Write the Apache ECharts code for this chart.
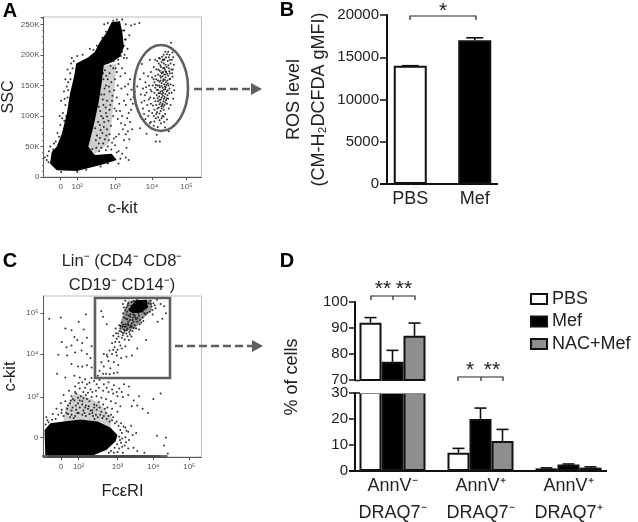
<!DOCTYPE html>
<html><head><meta charset="utf-8">
<style>html,body{margin:0;padding:0;background:#fff}#c{width:638px;height:522px}</style>
<script src="https://cdn.jsdelivr.net/npm/echarts@6/dist/echarts.min.js"></script>
</head><body><div id="c"></div>
<script>
// Panel B
const bCategories=['PBS','Mef'];
const bValues=[14000,17000];
const bErrorTops=[14000,17300];
// Panel D
const dCategories=['AnnV\u207B\nDRAQ7\u207B','AnnV\u207A\nDRAQ7\u207B','AnnV\u207A\nDRAQ7\u207A'];
const dPBS=[92,7,1];
const dMef=[77,20,2.5];
const dNAC=[87,11.5,1.3];
const dPBSTop=[94,8.7,1.2];
const dMefTop=[81.4,24.2,2.7];
const dNACTop=[91.9,16,1.6];
// Flow panels: tick positions in display decades, with their labels
const aXTicks=[1.49,1.95,3,4.03,4.99];
const cXTicks=[1.43,1.92,3,4,5];
const cYTicks=[2.04,3,4.02,4.99];
const xTickLabels=['0','10\u00B2','10\u00B3','10\u2074','10\u2075'];
const cYTickLabels=['0','10\u00B3','10\u2074','10\u2075'];
// Panel A: dense cloud outline [c-kit decades, SSC in K]
const aCloud=[[1.19,22],[1.24,41],[1.38,50],[1.52,71],[1.66,104],[1.75,137],[1.86,164],[1.92,186],[2.26,196],[2.44,205],[2.58,221],[2.77,237],[2.91,254],[3.14,255],[3.21,235],[3.25,213],[3.14,197],[2.91,188],[2.69,183],[2.63,153],[2.54,120],[2.4,82],[2.26,50],[2.44,36],[2.91,38],[3.05,28],[2.68,21],[1.94,10],[1.38,11]];
const aHaze=[[2.69,183],[3.04,185],[2.98,140],[2.92,95],[2.82,55],[2.45,38],[2.26,50],[2.4,82],[2.54,120],[2.63,153]];
// Panel A: sparse events
const aGate=[[4.18,190],[4.25,194],[4.31,197],[4.38,193],[4.42,196],[4.47,190],[4.22,186],[4.3,188],[4.36,186],[4.41,184],[4.28,180],[4.34,178],[4.39,176],[4.44,180],[4.5,178],[4.55,186],[4.58,192],[4.52,200],[4.6,204],[4.48,205],[4.56,220],[4.62,196],[4.64,184],[4.25,174],[4.31,170],[4.37,168],[4.43,172],[4.48,166],[4.53,170],[4.2,168],[4.28,163],[4.35,160],[4.41,163],[4.46,158],[4.52,160],[4.6,164],[4.24,156],[4.3,154],[4.37,152],[4.42,155],[4.49,150],[4.55,152],[4.15,160],[4.1,155],[4.18,150],[4.25,147],[4.33,146],[4.4,144],[4.47,142],[4.52,145],[4.62,150],[4.05,150],[4.12,146],[4.2,142],[4.27,140],[4.34,138],[4.4,136],[4.46,134],[4.58,138],[4.1,138],[4.16,134],[4.23,132],[4.3,130],[4.36,128],[4.42,126],[4.48,128],[4.2,124],[4.27,122],[4.33,120],[4.38,118],[4.45,120],[4.15,118],[4.22,114],[4.3,112],[4.36,110],[4.5,112],[4.1,110],[4.17,106],[4.24,104],[4.32,100],[4.08,100],[4.14,96],[4.2,98],[4.37,90],[4.45,94],[4.28,88],[4.21,176],[4.33,192],[4.27,158],[4.39,148],[4.31,136],[4.24,126],[4.35,124],[4.29,116],[4.23,150],[4.44,140],[4.34,172],[4.4,168],[3.75,185],[3.8,170],[3.7,160],[3.85,155],[3.78,145],[3.72,135],[3.92,165],[3.95,150],[3.88,138],[3.98,130],[3.82,125],[3.9,118],[3.78,112],[3.95,108],[3.7,100],[3.85,95],[4,120],[4.02,140],[4,172],[3.97,192],[4.08,180],[4.12,192],[3.62,148],[3.55,140],[3.5,120],[4.14,58],[4.25,58],[4.16,69],[3.88,71],[3.7,80],[4.08,84],[4,90],[4.5,75],
[4.263,183],[4.347,191],[4.292,171],[4.371,179],[4.408,173],[4.322,165],[4.389,159],[4.257,166],[4.433,151],[4.296,149],[4.361,143],[4.318,141],[4.383,131],[4.254,137],[4.335,133],[4.277,127],[4.401,122],[4.349,115],[4.271,108],[4.312,118],[4.238,119],[4.188,129],[4.216,137],[4.168,143],[4.138,151],[4.195,158],[4.339,157],[4.416,147],[4.456,169],[4.487,183],[4.512,173],[4.536,161],[4.475,153],[4.508,137],[4.441,129],[4.183,112],[4.127,124],[4.083,129],[4.059,117],[4.037,105],[4.151,103],[4.098,91],[4.243,93],[4.299,96],[4.353,99],[4.401,103],[4.566,176],[4.592,170],[4.611,176],[4.527,192],[4.497,196],[4.449,201],[4.403,205],[4.355,200],[4.228,195],[4.152,176],[4.127,166],[4.077,160],[4.033,163],[3.992,143],[3.941,127],[3.867,147],[3.833,134],[3.742,122],[3.762,95],[3.81,103],[3.926,100],[3.973,88],[4.043,79],[4.193,82],[4.316,76],[4.395,81],[4.62,128],[4.65,142],[4.55,118]];
const aFringe=[[3.3,250],[3.45,248],[3.55,250],[3.68,252],[3.4,232],[3.28,225],[3.35,210],[3.22,240],[3.25,195],[3.2,178],[3.1,185],[3.15,165],[3.28,170],[3.05,172],[3,160],[3.08,150],[3.18,145],[2.95,178],[2.85,170],[2.9,155],[2.98,142],[3.05,130],[2.8,160],[2.72,175],[2.75,150],[2.85,140],[2.92,125],[2.7,135],[2.78,125],[2.85,110],[2.95,100],[2.68,118],[2.75,105],[2.82,92],[2.62,100],[2.7,90],[2.78,78],[2.58,85],[2.65,72],[2.72,62],[2.85,70],[2.5,68],[2.55,55],[2.62,48],[2.8,50],[2.9,45],[3,52],[3.1,42],[3.2,38],[3.3,32],[3.38,28],[3.15,30],[3.25,60],[3.32,48],[3.36,75],[3.28,85],[3.42,90],[3.38,105],[3.3,118],[3.25,125],[3.45,110],[3.2,100],[3.35,135],[3.42,160],[3.12,120],[3.48,78],[3.4,62],[2.45,80],[2.55,115],[2.62,135],[2.68,160],[2.85,195],[2.75,205],[2.6,210],[2.5,215],[2.4,208],[2.65,228],[2.75,238],[2.8,252],[2.7,250],[3.2,258],[3.05,258],[2.95,256],[3.25,215],[1.62,70],[1.55,105],[1.62,118],[1.5,125],[1.68,130],[1.58,140],[1.7,155],[1.62,160],[1.75,170],[1.68,176],[1.78,186],[1.72,105],[1.48,85],[1.4,72],[1.3,55],[1.32,40],[1.2,50],[1.12,35],[1.05,32],[1.15,24],[1.5,8],[1.95,8],[2.2,12],[2.6,17],[2.8,22],[3.05,40],[3.1,22],[1.8,195],[1.95,198],[2.1,200],[2.3,210],
[2.72,193],[2.81,187],[2.67,170],[2.76,166],[2.88,182],[2.97,190],[3.02,178],[3.09,192],[2.83,148],[2.71,145],[2.93,133],[2.66,127],[2.74,114],[2.87,118],[2.99,112],[2.59,108],[2.67,96],[2.78,99],[2.89,84],[2.53,90],[2.6,77],[2.69,82],[2.76,68],[2.47,60],[2.58,64],[2.67,55],[2.75,44],[2.83,60],[2.92,56],[2.97,63],[3.03,66],[2.37,46],[2.48,48],[2.56,42],[3.17,198],[3.2,205],[3.27,200],[3.3,225],[3.26,240],[3.33,195],[3.28,148],[3.37,152],[3.46,143],[3.52,131],[3.44,127],[3.34,96],[3.3,70],[3.22,78],[3.17,88],[3.11,70],[3.08,95],[3.04,108],[3.14,108],[1.59,92],[1.53,96],[1.64,100],[1.46,100],[1.6,128],[1.7,142],[1.66,148],[1.76,160],[1.82,178],[1.85,190],[1.35,58],[1.44,66],[1.28,45],[1.1,28],[1.16,42]];
// Panel C: dense outlines [Fc-epsilon-RI decades, c-kit decades]
const cBlob=[[0.97,2.22],[1.13,2.38],[1.5,2.42],[1.96,2.47],[2.45,2.42],[2.8,2.28],[3,2.1],[2.95,1.95],[2.7,1.75],[2.33,1.62],[0.99,1.62]];
const cCore=[[3.5,5.29],[3.82,5.3],[3.85,5.12],[3.66,5],[3.42,4.98],[3.3,5.05]];
const cGateHaze=[[3.3,5.28],[3.95,5.3],[3.95,5.05],[3.7,4.85],[3.5,4.62],[3.2,4.55],[3.05,4.62],[3.15,4.95]];
const cMidHaze=[[1.5,2.42],[1.55,2.75],[1.8,3.08],[2.05,3.05],[2.5,2.85],[2.85,2.5],[2.8,2.28],[2.45,2.42],[1.96,2.47]];
const cAxisPile=[[1.1,1.6],[1.25,1.6],[1.4,1.6],[1.6,1.6],[1.8,1.6],[2,1.6],[2.2,1.6],[2.4,1.6],[2.6,1.6],[2.8,1.6],[3,1.6],[3.15,1.6],[3.3,1.6],[3.45,1.6],[3.6,1.6],[3.8,1.6],[4,1.6],[4.2,1.6]];
// Panel C: sparse events
const cGate=[[3.45,5.27],[3.55,5.3],[3.3,5.22],[3.22,5.28],[3.38,5.16],[3.25,5.12],[3.15,5.2],[3.92,5.28],[4,5.22],[4.1,5.3],[3.95,5.14],[4.06,5.1],[4.2,5.2],[4.3,5.15],[3.9,5.02],[3.98,4.95],[3.78,4.95],[3.7,4.88],[3.6,4.92],[3.5,4.88],[3.42,4.82],[3.35,4.9],[3.25,4.95],[3.18,4.88],[3.55,4.78],[3.62,4.72],[3.72,4.8],[3.48,4.7],[3.4,4.74],[3.3,4.78],[3.22,4.72],[3.12,4.76],[3.05,4.7],[3.35,4.65],[3.28,4.62],[3.18,4.6],[3.1,4.55],[3.42,4.56],[3.52,4.62],[3.6,4.6],[3.25,4.5],[3.35,4.48],[3.15,4.46],[3.02,4.5],[2.95,4.62],[2.88,4.45],[2.98,4.38],[3.05,4.3],[3.2,4.36],[2.85,4.28],[2.92,4.18],[3,4.12],[3.12,4.15],[3.22,4.2],[2.78,4.1],[2.7,4],[2.62,4.02],[2.85,4.02],[2.98,3.98],[3.1,3.92],[3.25,3.95],[3.4,3.98],[2.75,3.85],[2.9,3.82],[3.02,3.76],[2.55,3.82],[2.62,3.72],[2.8,3.68],[2.5,3.62],[2.6,3.55],[2.68,3.55],[2.78,3.54],[2.9,3.56],[3,3.58],[2.45,3.5],[3.8,4.35],[3.55,4.15],[3.32,4.35],[2.6,4.9],[2.55,5.03],[2.7,4.72],[4.25,4.85],[4.12,4.78],[4.35,4.98],[3.7,5.02],[3.58,4.98],[3.44,4.95],[3.36,4.96],[3.75,4.98],[3.62,4.82],[3.52,4.84],[3.45,4.78],[3.35,4.82],[3.27,4.84],[3.4,4.66],[3.3,4.7],[3.2,4.66],[3.14,4.66],[3.26,4.58],[3.36,4.58],[3.18,4.52],[3.08,4.62],
[3.33,5.08],[3.27,5.02],[3.21,5.05],[3.16,4.98],[3.39,5.03],[3.48,4.93],[3.56,4.87],[3.66,4.76],[3.43,4.88],[3.31,4.93],[3.23,4.86],[3.29,4.73],[3.37,4.69],[3.45,4.63],[3.24,4.67],[3.16,4.71],[3.09,4.68],[3.33,4.54],[3.21,4.57],[3.14,4.52],[3.06,4.56],[3.28,4.44],[3.39,4.43],[3.12,4.4],[3.03,4.43],[2.96,4.51],[3.87,5.22],[3.97,5.06],[3.83,4.99],[3.93,5.2],[4.04,5.17],[3.4,5.24],[3.29,5.17],[3.18,5.12],[2.94,4.3],[3.08,4.22],[2.88,4.12],[2.96,4.06],[2.72,3.95]];
const cUpper=[[1.42,4.88],[1.55,4.62],[1.72,4.58],[1.92,4.78],[2.06,4.6],[2.12,4.95],[1.8,4.42],[1.45,4.3],[1.58,4.18],[1.72,4.22],[1.88,4.35],[2.02,4.28],[2.15,4.4],[2.28,4.2],[1.35,4],[1.6,3.98],[1.82,4.05],[2,4.1],[2.15,4.02],[2.25,3.92],[1.72,3.78],[1.9,3.72],[2.02,3.72],[2.15,3.75],[2.28,3.7],[1.1,4.85],[1.32,3.55],[1.55,3.46],[1.8,3.5],[1.95,3.46],[2.1,3.42],[2.22,3.34],[2.35,3.38],[2.5,3.4],[2.62,3.3],[2.75,3.35],[2.9,3.28],[3.05,3.2],[3.18,3.3],[3.32,3.25],[2.48,3.22],[2.6,3.15],[2.75,3.12],[2.88,3.08],[3,3.02],[3.15,3],[3.3,3.05],[3.45,2.92],[3.6,3.02],[3.7,2.72],[3.55,2.8],[3.4,2.78],[4,2.95],[3.85,2.62],[4.2,3.08],[2.25,3.18],[2.1,3.22],[1.95,3.2],[1.82,3.25],[1.65,3.15],[1.5,3.05],[1.72,3.02],[1.85,3.08],[1.98,3.02],[2.12,3.05],[2.28,3],[2.42,3.02],[2.55,2.98],[2.68,2.95],[2.82,2.9],[2.95,2.85],[3.08,2.78],[1.42,2.85],[1.55,2.9],[1.68,2.85],[1.8,2.92],[1.9,2.85],[2.02,2.9],[2.12,2.8],[2.22,2.9],[2.35,2.82],[2.48,2.88],[2.6,2.82],[2.72,2.75],[2.85,2.72],[3,2.65],[1.3,2.72],[1.45,2.7],[1.6,2.72],[1.75,2.75],[1.85,2.7],[1.95,2.75],[2.05,2.68],[2.18,2.72],[2.3,2.68],[2.42,2.7],[2.55,2.65],[2.68,2.62],[2.82,2.58],[1.2,2.6],[1.35,2.58],[1.5,2.55],[1.62,2.6],[1.72,2.58],[1.82,2.55],[1.92,2.62],[2.02,2.58],[2.12,2.55],[2.22,2.6],[2.32,2.55],[2.45,2.52],[2.58,2.5],[2.7,2.48],[2.85,2.45],[2.98,2.42],[3.1,2.38],[3.22,2.28],[3.3,2.18],[3.38,2.32],[3.12,2.15],[3.22,2.05],[3.32,1.98],[3.42,2.1],[3.52,2.15],[3.1,1.92],[3.2,1.85],[3.3,1.78],[3.45,1.8],[3.05,1.78],[3,1.7],[3.15,1.68],[2.9,1.68],[3.55,1.72],[3.75,1.68],[4.1,2.08],[4.35,2.04],[4.3,1.85],[4.4,1.66],[1.82,3.12],[1.9,2.98],[2.02,2.82],[1.72,2.68],[1.88,2.62],[2.08,2.62],[2.2,2.78],[2.3,2.62],[2.4,2.58],[1.68,2.52],[1.78,2.5],[1.05,2.45],[1,2.35],[1.02,2.52],
[3.03,2.32],[3.08,2.22],[3.05,2.06],[3.13,2.02],[3.17,2.3],[3.25,2.2],[3.07,1.98],[2.99,1.88],[2.92,1.8],[2.82,1.72],[2.76,1.68],[3.24,1.93],[3.13,1.82],[2.93,2.38],[2.88,2.52],[2.78,2.42],[2.62,2.55],[2.75,2.55],[2.36,2.48],[2.52,2.58],[2.65,2.72],[2.35,2.75],[2.25,2.68],[2.1,2.75],[2.42,2.8],[2.5,2.75],[2.15,2.95],[2.05,2.97],[1.95,2.92],[1.76,2.95],[1.84,2.8],[1.62,2.8],[1.7,2.92],[1.58,2.62],[1.44,2.62],[1.28,2.48],[1.18,2.46],[1.08,2.4],[2.3,3.12],[2.4,3.15],[2.18,3.1],[2.05,3.12],[1.92,3.33],[2.02,3.35],[2.15,3.3],[2.28,3.45],[2.42,3.3],[2.7,3.22],[2.85,3.18],[2.98,3.12],[3.12,3.12]];

const chart=echarts.init(document.getElementById('c'),null,{renderer:'canvas'});
const FONT='"Liberation Sans",Arial,sans-serif';
const DARK='#222';
const GATE='#5f5f5f';
const lookup=(vals,labs)=>v=>{const i=vals.findIndex(t=>Math.abs(t-v)<1e-6);return i<0?'':labs[i];};
const poly=(arr,fill)=>(p,api)=>p.dataIndex?null:{type:'polygon',shape:{points:arr.map(d=>api.coord(d))},style:{fill}};
const errBars=(tops,vals,offset,cap,lim)=>(p,api)=>{
  const i=p.dataIndex;
  if(tops[i]==null||vals[i]>lim[1]||tops[i]<lim[0]||vals[i]<lim[0])return null;
  const a=api.coord([i,vals[i]]),b=api.coord([i,tops[i]]);
  const x=a[0]+offset;
  return {type:'group',children:[
    {type:'line',shape:{x1:x,y1:a[1],x2:x,y2:b[1]},style:{stroke:'#111',lineWidth:1.6}},
    {type:'line',shape:{x1:x-cap/2,y1:b[1],x2:x+cap/2,y2:b[1]},style:{stroke:'#111',lineWidth:1.6}}]};
};
const flowX=(gi,min,max,ticks,labs,name,gap)=>({type:'value',gridIndex:gi,min,max,splitLine:{show:false},
  axisLine:{lineStyle:{color:'#555',width:1},onZero:false},
  axisTick:{customValues:ticks,length:3,lineStyle:{color:'#555'}},
  axisLabel:{customValues:ticks,formatter:lookup(ticks,labs),color:'#555',fontSize:8,fontFamily:FONT,margin:6},
  name,nameLocation:'middle',nameGap:gap,nameTextStyle:{fontSize:16.5,color:DARK,fontFamily:FONT}});
const dy=(gi,min,max)=>({type:'value',gridIndex:gi,min,max,interval:10,offset:-6.5,splitLine:{show:false},
  axisLine:{show:true,lineStyle:{color:'#111',width:2}},
  axisTick:{show:true,length:6,lineStyle:{color:'#111',width:1.5}},
  axisLabel:{color:DARK,fontSize:15,fontFamily:FONT,margin:7,formatter:v=>String(v)}});
const bars=(name,data,color,xi,test)=>({name,type:'bar',xAxisIndex:xi,yAxisIndex:xi,barWidth:22,barGap:0,
  data:data.map(v=>test(v)?v:null),itemStyle:{color,borderColor:'#111',borderWidth:2}});
const errs=(name,tops,vals,off,xi,lim)=>({name,type:'custom',xAxisIndex:xi,yAxisIndex:xi,
  data:tops.map((t,i)=>[i,t]),encode:{x:0,y:1},renderItem:errBars(tops,vals,off,12,lim),z:1,clip:false});
const scatter=(data,xi)=>({type:'scatter',xAxisIndex:xi,yAxisIndex:xi,data,symbolSize:2,itemStyle:{color:'#000'},z:3});
const polygon=(arr,xi,fill,z)=>({type:'custom',xAxisIndex:xi,yAxisIndex:xi,data:arr,encode:{x:0,y:1},renderItem:poly(arr,fill||'#000'),z:z||3});
const T=(text,x,y,size,extra)=>({type:'text',x,y,z:20,style:Object.assign({text,fontSize:size,fontFamily:FONT,fill:DARK,textAlign:'center',textVerticalAlign:'middle'},extra||{})});
const L=(pts,color,w,dash)=>({type:'polyline',z:20,shape:{points:pts},style:{stroke:color,lineWidth:w,fill:'none',lineDash:dash||null}});
const G=o=>Object.assign({outerBoundsMode:'none'},o);

chart.setOption({
  animation:false,backgroundColor:'#fff',
  textStyle:{fontFamily:FONT},
  legend:{data:['PBS','Mef','NAC+Mef'],left:530,top:290,padding:0,icon:'rect',orient:'vertical',itemWidth:16,itemHeight:10,itemGap:4.5,
    textStyle:{fontSize:18,color:DARK,fontFamily:FONT},selectedMode:false},
  grid:[
    G({left:43.5,top:17,width:158,height:160,show:true,borderColor:'#bdbdbd',borderWidth:1}),
    G({left:378,top:15,width:129,height:169}),
    G({left:43.5,top:296,width:158,height:161,show:true,borderColor:'#bdbdbd',borderWidth:1}),
    G({left:348.5,top:302,width:264,height:78}),
    G({left:348.5,top:393,width:264,height:78})
  ],
  xAxis:[
    flowX(0,1.01,5.41,aXTicks,xTickLabels,'c-kit',23),
    {type:'category',gridIndex:1,data:bCategories,axisLine:{show:false},axisTick:{show:false},
      axisLabel:{color:DARK,fontSize:18,fontFamily:FONT,margin:6}},
    flowX(2,0.94,5.34,cXTicks,xTickLabels,'Fc\u03B5RI',26),
    {type:'category',gridIndex:3,data:dCategories,show:false},
    {type:'category',gridIndex:4,data:dCategories,axisLine:{show:false},axisTick:{show:false},
      axisLabel:{interval:0,color:DARK,fontSize:18,fontFamily:FONT,margin:2,lineHeight:27}}
  ],
  yAxis:[
    {type:'value',gridIndex:0,min:0,max:262,interval:50,splitLine:{show:false},
      axisLine:{show:true,lineStyle:{color:'#555',width:1}},
      axisTick:{show:true,length:3,lineStyle:{color:'#555'}},
      minorTick:{show:true,splitNumber:5,length:1.5,lineStyle:{color:'#777'}},
      axisLabel:{color:'#555',fontSize:8,fontFamily:FONT,margin:4,formatter:v=>v===0?'0':v+'K'},
      name:'SSC',nameLocation:'middle',nameRotate:90,nameGap:21,nameTextStyle:{fontSize:16,color:DARK,fontFamily:FONT}},
    {type:'value',gridIndex:1,min:0,max:20000,interval:5000,offset:-9,splitLine:{show:false},
      axisLine:{show:true,lineStyle:{color:'#111',width:2}},
      axisTick:{show:true,length:7,lineStyle:{color:'#111',width:1.5}},
      axisLabel:{color:DARK,fontSize:15,fontFamily:FONT,margin:8,formatter:v=>String(v)},
      name:'ROS level\n(CM-H\u2082DCFDA gMFI)',nameLocation:'middle',nameRotate:90,nameGap:55,
      nameTextStyle:{fontSize:18,lineHeight:25,color:DARK,fontFamily:FONT}},
    {type:'value',gridIndex:2,min:1.58,max:5.39,splitLine:{show:false},
      axisLine:{show:true,onZero:false,lineStyle:{color:'#555',width:1}},
      axisTick:{show:true,customValues:cYTicks,length:3,lineStyle:{color:'#555'}},
      axisLabel:{customValues:cYTicks,formatter:lookup(cYTicks,cYTickLabels),color:'#555',fontSize:8,fontFamily:FONT,margin:5},
      name:'c-kit',nameLocation:'middle',nameRotate:90,nameGap:25,nameTextStyle:{fontSize:16.5,color:DARK,fontFamily:FONT}},
    dy(3,70,100),
    dy(4,0,30)
  ],
  series:[
    polygon(aHaze,0,'#cfcfcf',2),polygon(aCloud,0),scatter(aGate,0),scatter(aFringe,0),
    {type:'bar',xAxisIndex:1,yAxisIndex:1,barWidth:33,
      data:[{value:bValues[0],itemStyle:{color:'#fff'}},{value:bValues[1],itemStyle:{color:'#000'}}],
      itemStyle:{borderColor:'#111',borderWidth:2}},
    {type:'custom',xAxisIndex:1,yAxisIndex:1,data:bErrorTops.map((t,i)=>[i,t]),encode:{x:0,y:1},z:1,clip:false,
      renderItem:errBars(bErrorTops,bValues,0,17,[0,20000])},
    polygon(cGateHaze,2,'#9a9a9a',2),polygon(cMidHaze,2,'#cfcfcf',2),
    polygon(cBlob,2),polygon(cCore,2),scatter(cGate,2),scatter(cUpper,2),
    {type:'scatter',xAxisIndex:2,yAxisIndex:2,data:cAxisPile,symbol:'rect',symbolSize:[14,2.2],itemStyle:{color:'#444'},z:3,clip:false},
    bars('PBS',dPBS,'#fff',3,v=>v>=70),bars('Mef',dMef,'#000',3,v=>v>=70),bars('NAC+Mef',dNAC,'#8e8e8e',3,v=>v>=70),
    bars('PBS',dPBS,'#fff',4,()=>true),bars('Mef',dMef,'#000',4,()=>true),bars('NAC+Mef',dNAC,'#8e8e8e',4,()=>true),
    errs('e1',dPBSTop,dPBS,-22,3,[70,100]),errs('e2',dMefTop,dMef,0,3,[70,100]),errs('e3',dNACTop,dNAC,22,3,[70,100]),
    errs('e4',dPBSTop,dPBS,-22,4,[0,30]),errs('e5',dMefTop,dMef,0,4,[0,30]),errs('e6',dNACTop,dNAC,22,4,[0,30])
  ],
  graphic:[
    T('A',10,11,20,{fontWeight:'bold',fill:'#000'}),
    T('B',287,10,20,{fontWeight:'bold',fill:'#000'}),
    T('C',10,261,20,{fontWeight:'bold',fill:'#000'}),
    T('D',287,261,20,{fontWeight:'bold',fill:'#000'}),
    T('Lin\u207B (CD4\u207B CD8\u207B',122,261,16.5),
    T('CD19\u207B CD14\u207B)',122,285,16.5),
    {type:'text',x:292,y:377,rotation:Math.PI/2,z:20,style:{text:'% of cells',fontSize:18,fontFamily:FONT,fill:DARK,textAlign:'center',textVerticalAlign:'middle'}},
    // axis break gap across the bars
    {type:'rect',z:18,shape:{x:358,y:381,width:70,height:12.5},style:{fill:'#fff'}},
    L([[355,380.5],[360,380.5]],'#111',1.5),
    L([[355,393],[360,393]],'#111',1.5),
    // baselines
    L([[380,184],[498,184]],'#111',2),
    L([[349,471],[607,471]],'#111',2),
    // gates
    {type:'ellipse',z:15,shape:{cx:161,cy:88,rx:27,ry:43},style:{stroke:GATE,lineWidth:2.6,fill:'none'}},
    {type:'rect',z:15,shape:{x:95,y:298,width:75,height:80},style:{stroke:GATE,lineWidth:2.6,fill:'none'}},
    // arrows
    L([[194,89],[250,89]],GATE,2.6,[8,4]),
    {type:'polygon',z:20,shape:{points:[[251,83],[262,89],[251,95]]},style:{fill:GATE}},
    L([[175,346],[252,346]],GATE,2.6,[8,4]),
    {type:'polygon',z:20,shape:{points:[[252,340],[263,346],[252,352]]},style:{fill:GATE}},
    // brackets
    L([[410,20],[410,16],[476,16],[476,20]],'#222',1.2),
    T('*',443,11,21),
    L([[371,300],[371,296],[415,296],[415,300]],'#222',1.2),
    L([[393,296],[393,300]],'#222',1.2),
    T('**',383,289,21),T('**',404,289,21),
    L([[458,381],[458,377],[503,377],[503,381]],'#222',1.2),
    L([[481,377],[481,381]],'#222',1.2),
    T('*',470,370,21),T('**',492,370,21)
  ]
});
</script></body></html>
